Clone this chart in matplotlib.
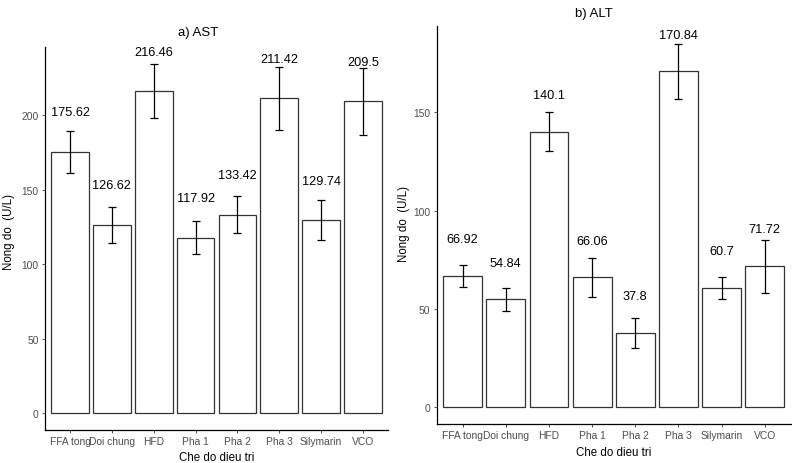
import numpy as np
import matplotlib
matplotlib.use("Agg")
import matplotlib.pyplot as plt

plt.rcParams["font.family"] = ["Liberation Sans", "DejaVu Sans"]

groups = ["FFA tong", "Doi chung", "HFD", "Pha 1", "Pha 2", "Pha 3", "Silymarin", "VCO"]

ast_mean = [175.62, 126.62, 216.46, 117.92, 133.42, 211.42, 129.74, 209.5]
ast_se = [14.0, 12.0, 18.0, 11.0, 12.5, 21.0, 13.5, 22.5]

alt_mean = [66.92, 54.84, 140.1, 66.06, 37.8, 170.84, 60.7, 71.72]
alt_se = [5.5, 6.0, 10.0, 10.0, 7.7, 14.0, 5.8, 13.5]

W, H = 792, 464
fig = plt.figure(figsize=(W / 100, H / 100), dpi=100)


def px_axes(x0, y0, x1, y1):
    # pixel box (top-left origin) -> figure fraction
    return fig.add_axes([x0 / W, (H - y1) / H, (x1 - x0) / W, (y1 - y0) / H])


def draw_panel(ax, means, ses, label_off, ylim, yticks):
    x = np.arange(1, len(groups) + 1)
    ax.bar(x, means, width=0.9, color="white", edgecolor="#333333", linewidth=0.9, zorder=2)
    ax.errorbar(x, means, yerr=ses, fmt="none", ecolor="black", elinewidth=0.9,
                capsize=2.9, capthick=0.9, zorder=3)
    for xi, m in zip(x, means):
        ax.text(xi, m + label_off, f"{m:g}", ha="center", va="center", fontsize=9.2, color="black")
    ax.set_xlim(0.4, 8.6)
    ax.set_ylim(*ylim)
    ax.set_xticks(x)
    ax.set_xticklabels(groups, fontsize=7.4, color="#4D4D4D")
    ax.set_yticks(yticks)
    ax.set_yticklabels([str(t) for t in yticks], fontsize=7.4, color="#4D4D4D")
    ax.tick_params(axis="both", length=2.5, width=0.6, color="#333333", pad=2)
    for s in ["top", "right"]:
        ax.spines[s].set_visible(False)
    for s in ["left", "bottom"]:
        ax.spines[s].set_linewidth(0.9)
        ax.spines[s].set_color("black")


ax1 = px_axes(45, 48, 388, 431)
draw_panel(ax1, ast_mean, ast_se, 26.4, (-11.2, 246), [0, 50, 100, 150, 200])
ax2 = px_axes(436.7, 27, 790.7, 425)
draw_panel(ax2, alt_mean, alt_se, 18.7, (-8.5, 193.9), [0, 50, 100, 150])

fig.text(198 / W, 1 - 33 / H, "a) AST", ha="center", va="center", fontsize=9.5)
fig.text(594 / W, 1 - 14 / H, "b) ALT", ha="center", va="center", fontsize=9.5)
fig.text(216.5 / W, 1 - 461 / H, "Che do dieu tri", ha="center", va="baseline", fontsize=8.3)
fig.text(613.7 / W, 1 - 456 / H, "Che do dieu tri", ha="center", va="baseline", fontsize=8.3)
fig.text(9 / W, 1 - 232 / H, "Nong do  (U/L)", rotation=90, ha="center", va="center", fontsize=8.3)
fig.text(404 / W, 1 - 224 / H, "Nong do  (U/L)", rotation=90, ha="center", va="center", fontsize=8.3)

fig.savefig("out.png", dpi=100)
